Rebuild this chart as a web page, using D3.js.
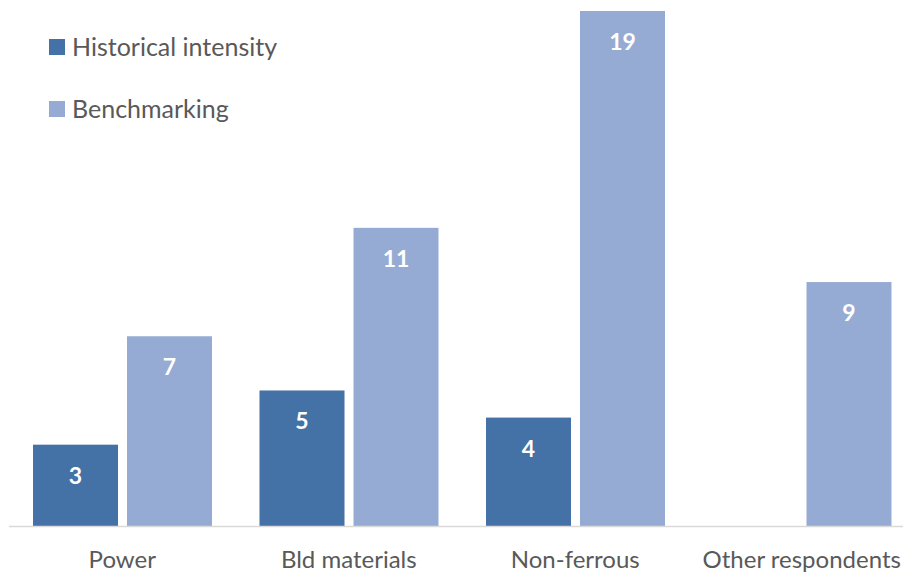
<!DOCTYPE html>
<html><head><meta charset="utf-8">
<script src="https://cdn.jsdelivr.net/npm/d3@7"></script>
<style>body{margin:0;background:#fff}svg{display:block}text{font-family:Lato,"Open Sans",sans-serif}</style>
</head><body>
<svg id="c" width="903" height="573"></svg>
<script>
const categories = ["Power", "Bld materials", "Non-ferrous", "Other respondents"];
const seriesNames = ["Historical intensity", "Benchmarking"];
const historical = [3, 5, 4, null];
const benchmarking = [7, 11, 19, 9];
const colors = ["#4471a6", "#95abd3"];

const svg = d3.select("#c");
const x0 = d3.scaleBand().domain(categories).range([9, 915]).padding(0);
const x1 = d3.scaleBand().domain(seriesNames).range([24, 203]).paddingInner(9/94).paddingOuter(0);
const y = d3.scaleLinear().domain([0, 19]).range([526, 11]);

const data = categories.map((c, i) => ({cat: c, vals: [
  {s: seriesNames[0], v: historical[i]}, {s: seriesNames[1], v: benchmarking[i]}]}));

const g = svg.selectAll("g.cat").data(data).join("g")
  .attr("transform", d => `translate(${x0(d.cat)},0)`);
const bars = g.selectAll("g.bar").data(d => d.vals.filter(v => v.v != null)).join("g");
bars.append("rect")
  .attr("x", d => x1(d.s)).attr("width", x1.bandwidth())
  .attr("y", d => y(d.v)).attr("height", d => y(0) - y(d.v))
  .attr("fill", d => colors[seriesNames.indexOf(d.s)]);
bars.append("text")
  .attr("x", d => x1(d.s) + x1.bandwidth()/2).attr("y", d => y(d.v) + 39)
  .attr("text-anchor", "middle").attr("fill", "#fff").attr("font-weight", "bold")
  .attr("font-size", 23).text(d => d.v);

svg.append("line").attr("x1", 9).attr("x2", 903).attr("y1", 526.5).attr("y2", 526.5)
  .attr("stroke", "#d9d9d9").attr("stroke-width", 1.5);

const xAxis = d3.axisBottom(x0).tickSize(0).tickPadding(0);
const ax = svg.append("g").attr("transform", "translate(0,568)").call(xAxis);
ax.select(".domain").remove();
ax.selectAll("text").attr("font-size", 24).attr("fill", "#595959")
  .attr("font-family", "Lato, 'Open Sans', sans-serif").attr("dy", 0);

const leg = svg.append("g").selectAll("g").data(seriesNames).join("g")
  .attr("transform", (d, i) => `translate(49,${39 + i*62})`);
leg.append("rect").attr("width", 16).attr("height", 16).attr("fill", (d, i) => colors[i]);
leg.append("text").attr("x", 23).attr("y", 17).attr("font-size", 25).attr("fill", "#595959").text(d => d);
</script>
</body></html>
